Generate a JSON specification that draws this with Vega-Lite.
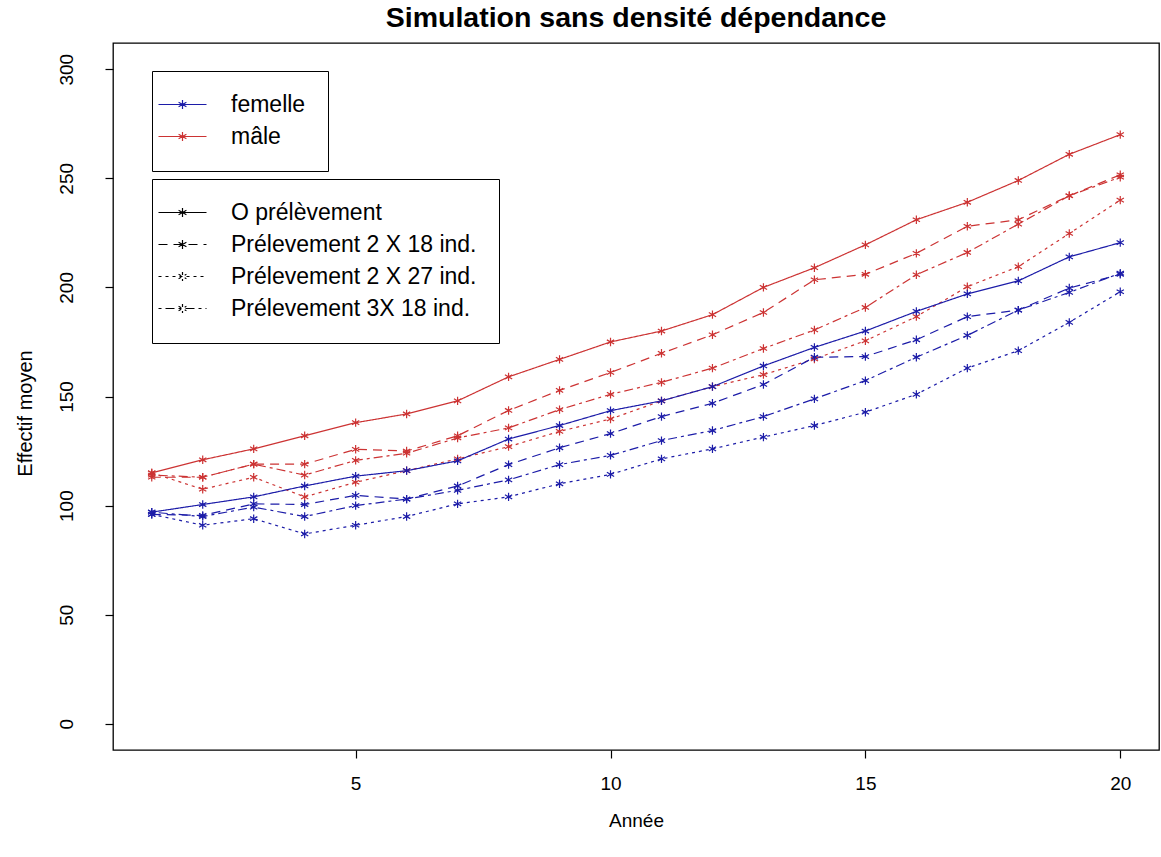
{
  "$schema": "https://vega.github.io/schema/vega-lite/v6.json",
  "width": 1046,
  "height": 707,
  "autosize": "none",
  "padding": {"left": 113, "top": 43, "right": 2, "bottom": 107},
  "background": "white",
  "config": {
    "font": "Liberation Sans",
    "view": {"stroke": "black", "strokeWidth": 1.3}
  },
  "title": {
    "text": "Simulation sans densité dépendance",
    "fontSize": 28.5,
    "fontWeight": "bold",
    "font": "Liberation Sans",
    "color": "black",
    "anchor": "middle",
    "offset": 11
  },
  "data": {
    "values": [
      {"annee": 1, "sexe": "mâle", "scenario": "O prélèvement", "effectif": 115},
      {"annee": 2, "sexe": "mâle", "scenario": "O prélèvement", "effectif": 121},
      {"annee": 3, "sexe": "mâle", "scenario": "O prélèvement", "effectif": 126},
      {"annee": 4, "sexe": "mâle", "scenario": "O prélèvement", "effectif": 132},
      {"annee": 5, "sexe": "mâle", "scenario": "O prélèvement", "effectif": 138},
      {"annee": 6, "sexe": "mâle", "scenario": "O prélèvement", "effectif": 142},
      {"annee": 7, "sexe": "mâle", "scenario": "O prélèvement", "effectif": 148},
      {"annee": 8, "sexe": "mâle", "scenario": "O prélèvement", "effectif": 159},
      {"annee": 9, "sexe": "mâle", "scenario": "O prélèvement", "effectif": 167},
      {"annee": 10, "sexe": "mâle", "scenario": "O prélèvement", "effectif": 175},
      {"annee": 11, "sexe": "mâle", "scenario": "O prélèvement", "effectif": 180},
      {"annee": 12, "sexe": "mâle", "scenario": "O prélèvement", "effectif": 187.5},
      {"annee": 13, "sexe": "mâle", "scenario": "O prélèvement", "effectif": 200},
      {"annee": 14, "sexe": "mâle", "scenario": "O prélèvement", "effectif": 209},
      {"annee": 15, "sexe": "mâle", "scenario": "O prélèvement", "effectif": 219.5},
      {"annee": 16, "sexe": "mâle", "scenario": "O prélèvement", "effectif": 231},
      {"annee": 17, "sexe": "mâle", "scenario": "O prélèvement", "effectif": 239},
      {"annee": 18, "sexe": "mâle", "scenario": "O prélèvement", "effectif": 249},
      {"annee": 19, "sexe": "mâle", "scenario": "O prélèvement", "effectif": 261},
      {"annee": 20, "sexe": "mâle", "scenario": "O prélèvement", "effectif": 270},

      {"annee": 1, "sexe": "mâle", "scenario": "Prélevement 2 X 18 ind.", "effectif": 113},
      {"annee": 2, "sexe": "mâle", "scenario": "Prélevement 2 X 18 ind.", "effectif": 113},
      {"annee": 3, "sexe": "mâle", "scenario": "Prélevement 2 X 18 ind.", "effectif": 119},
      {"annee": 4, "sexe": "mâle", "scenario": "Prélevement 2 X 18 ind.", "effectif": 119},
      {"annee": 5, "sexe": "mâle", "scenario": "Prélevement 2 X 18 ind.", "effectif": 125.8},
      {"annee": 6, "sexe": "mâle", "scenario": "Prélevement 2 X 18 ind.", "effectif": 125},
      {"annee": 7, "sexe": "mâle", "scenario": "Prélevement 2 X 18 ind.", "effectif": 132},
      {"annee": 8, "sexe": "mâle", "scenario": "Prélevement 2 X 18 ind.", "effectif": 143.6},
      {"annee": 9, "sexe": "mâle", "scenario": "Prélevement 2 X 18 ind.", "effectif": 152.8},
      {"annee": 10, "sexe": "mâle", "scenario": "Prélevement 2 X 18 ind.", "effectif": 161},
      {"annee": 11, "sexe": "mâle", "scenario": "Prélevement 2 X 18 ind.", "effectif": 169.8},
      {"annee": 12, "sexe": "mâle", "scenario": "Prélevement 2 X 18 ind.", "effectif": 178.3},
      {"annee": 13, "sexe": "mâle", "scenario": "Prélevement 2 X 18 ind.", "effectif": 188.5},
      {"annee": 14, "sexe": "mâle", "scenario": "Prélevement 2 X 18 ind.", "effectif": 203.5},
      {"annee": 15, "sexe": "mâle", "scenario": "Prélevement 2 X 18 ind.", "effectif": 206},
      {"annee": 16, "sexe": "mâle", "scenario": "Prélevement 2 X 18 ind.", "effectif": 215.6},
      {"annee": 17, "sexe": "mâle", "scenario": "Prélevement 2 X 18 ind.", "effectif": 228},
      {"annee": 18, "sexe": "mâle", "scenario": "Prélevement 2 X 18 ind.", "effectif": 231},
      {"annee": 19, "sexe": "mâle", "scenario": "Prélevement 2 X 18 ind.", "effectif": 242},
      {"annee": 20, "sexe": "mâle", "scenario": "Prélevement 2 X 18 ind.", "effectif": 251.6},

      {"annee": 1, "sexe": "mâle", "scenario": "Prélevement 2 X 27 ind.", "effectif": 115},
      {"annee": 2, "sexe": "mâle", "scenario": "Prélevement 2 X 27 ind.", "effectif": 107.5},
      {"annee": 3, "sexe": "mâle", "scenario": "Prélevement 2 X 27 ind.", "effectif": 113},
      {"annee": 4, "sexe": "mâle", "scenario": "Prélevement 2 X 27 ind.", "effectif": 104},
      {"annee": 5, "sexe": "mâle", "scenario": "Prélevement 2 X 27 ind.", "effectif": 110.7},
      {"annee": 6, "sexe": "mâle", "scenario": "Prélevement 2 X 27 ind.", "effectif": 116},
      {"annee": 7, "sexe": "mâle", "scenario": "Prélevement 2 X 27 ind.", "effectif": 121.4},
      {"annee": 8, "sexe": "mâle", "scenario": "Prélevement 2 X 27 ind.", "effectif": 127},
      {"annee": 9, "sexe": "mâle", "scenario": "Prélevement 2 X 27 ind.", "effectif": 134},
      {"annee": 10, "sexe": "mâle", "scenario": "Prélevement 2 X 27 ind.", "effectif": 139.7},
      {"annee": 11, "sexe": "mâle", "scenario": "Prélevement 2 X 27 ind.", "effectif": 148},
      {"annee": 12, "sexe": "mâle", "scenario": "Prélevement 2 X 27 ind.", "effectif": 154.5},
      {"annee": 13, "sexe": "mâle", "scenario": "Prélevement 2 X 27 ind.", "effectif": 160},
      {"annee": 14, "sexe": "mâle", "scenario": "Prélevement 2 X 27 ind.", "effectif": 167.2},
      {"annee": 15, "sexe": "mâle", "scenario": "Prélevement 2 X 27 ind.", "effectif": 175.5},
      {"annee": 16, "sexe": "mâle", "scenario": "Prélevement 2 X 27 ind.", "effectif": 186.6},
      {"annee": 17, "sexe": "mâle", "scenario": "Prélevement 2 X 27 ind.", "effectif": 200.3},
      {"annee": 18, "sexe": "mâle", "scenario": "Prélevement 2 X 27 ind.", "effectif": 209.5},
      {"annee": 19, "sexe": "mâle", "scenario": "Prélevement 2 X 27 ind.", "effectif": 224.7},
      {"annee": 20, "sexe": "mâle", "scenario": "Prélevement 2 X 27 ind.", "effectif": 240},

      {"annee": 1, "sexe": "mâle", "scenario": "Prélevement 3X 18 ind.", "effectif": 114},
      {"annee": 2, "sexe": "mâle", "scenario": "Prélevement 3X 18 ind.", "effectif": 113},
      {"annee": 3, "sexe": "mâle", "scenario": "Prélevement 3X 18 ind.", "effectif": 119},
      {"annee": 4, "sexe": "mâle", "scenario": "Prélevement 3X 18 ind.", "effectif": 114},
      {"annee": 5, "sexe": "mâle", "scenario": "Prélevement 3X 18 ind.", "effectif": 120.7},
      {"annee": 6, "sexe": "mâle", "scenario": "Prélevement 3X 18 ind.", "effectif": 124},
      {"annee": 7, "sexe": "mâle", "scenario": "Prélevement 3X 18 ind.", "effectif": 131},
      {"annee": 8, "sexe": "mâle", "scenario": "Prélevement 3X 18 ind.", "effectif": 135.6},
      {"annee": 9, "sexe": "mâle", "scenario": "Prélevement 3X 18 ind.", "effectif": 144},
      {"annee": 10, "sexe": "mâle", "scenario": "Prélevement 3X 18 ind.", "effectif": 151},
      {"annee": 11, "sexe": "mâle", "scenario": "Prélevement 3X 18 ind.", "effectif": 156.5},
      {"annee": 12, "sexe": "mâle", "scenario": "Prélevement 3X 18 ind.", "effectif": 163},
      {"annee": 13, "sexe": "mâle", "scenario": "Prélevement 3X 18 ind.", "effectif": 172},
      {"annee": 14, "sexe": "mâle", "scenario": "Prélevement 3X 18 ind.", "effectif": 180.5},
      {"annee": 15, "sexe": "mâle", "scenario": "Prélevement 3X 18 ind.", "effectif": 190.8},
      {"annee": 16, "sexe": "mâle", "scenario": "Prélevement 3X 18 ind.", "effectif": 205.8},
      {"annee": 17, "sexe": "mâle", "scenario": "Prélevement 3X 18 ind.", "effectif": 216},
      {"annee": 18, "sexe": "mâle", "scenario": "Prélevement 3X 18 ind.", "effectif": 229},
      {"annee": 19, "sexe": "mâle", "scenario": "Prélevement 3X 18 ind.", "effectif": 242},
      {"annee": 20, "sexe": "mâle", "scenario": "Prélevement 3X 18 ind.", "effectif": 250.5},

      {"annee": 1, "sexe": "femelle", "scenario": "O prélèvement", "effectif": 97},
      {"annee": 2, "sexe": "femelle", "scenario": "O prélèvement", "effectif": 100.5},
      {"annee": 3, "sexe": "femelle", "scenario": "O prélèvement", "effectif": 104},
      {"annee": 4, "sexe": "femelle", "scenario": "O prélèvement", "effectif": 109},
      {"annee": 5, "sexe": "femelle", "scenario": "O prélèvement", "effectif": 113.5},
      {"annee": 6, "sexe": "femelle", "scenario": "O prélèvement", "effectif": 116},
      {"annee": 7, "sexe": "femelle", "scenario": "O prélèvement", "effectif": 120.5},
      {"annee": 8, "sexe": "femelle", "scenario": "O prélèvement", "effectif": 130.5},
      {"annee": 9, "sexe": "femelle", "scenario": "O prélèvement", "effectif": 136.7},
      {"annee": 10, "sexe": "femelle", "scenario": "O prélèvement", "effectif": 143.5},
      {"annee": 11, "sexe": "femelle", "scenario": "O prélèvement", "effectif": 148},
      {"annee": 12, "sexe": "femelle", "scenario": "O prélèvement", "effectif": 154.5},
      {"annee": 13, "sexe": "femelle", "scenario": "O prélèvement", "effectif": 164},
      {"annee": 14, "sexe": "femelle", "scenario": "O prélèvement", "effectif": 172.5},
      {"annee": 15, "sexe": "femelle", "scenario": "O prélèvement", "effectif": 180},
      {"annee": 16, "sexe": "femelle", "scenario": "O prélèvement", "effectif": 189},
      {"annee": 17, "sexe": "femelle", "scenario": "O prélèvement", "effectif": 197},
      {"annee": 18, "sexe": "femelle", "scenario": "O prélèvement", "effectif": 203},
      {"annee": 19, "sexe": "femelle", "scenario": "O prélèvement", "effectif": 214},
      {"annee": 20, "sexe": "femelle", "scenario": "O prélèvement", "effectif": 220.5},

      {"annee": 1, "sexe": "femelle", "scenario": "Prélevement 2 X 18 ind.", "effectif": 96},
      {"annee": 2, "sexe": "femelle", "scenario": "Prélevement 2 X 18 ind.", "effectif": 95.5},
      {"annee": 3, "sexe": "femelle", "scenario": "Prélevement 2 X 18 ind.", "effectif": 100.8},
      {"annee": 4, "sexe": "femelle", "scenario": "Prélevement 2 X 18 ind.", "effectif": 100.5},
      {"annee": 5, "sexe": "femelle", "scenario": "Prélevement 2 X 18 ind.", "effectif": 104.7},
      {"annee": 6, "sexe": "femelle", "scenario": "Prélevement 2 X 18 ind.", "effectif": 103},
      {"annee": 7, "sexe": "femelle", "scenario": "Prélevement 2 X 18 ind.", "effectif": 109},
      {"annee": 8, "sexe": "femelle", "scenario": "Prélevement 2 X 18 ind.", "effectif": 118.8},
      {"annee": 9, "sexe": "femelle", "scenario": "Prélevement 2 X 18 ind.", "effectif": 126.5},
      {"annee": 10, "sexe": "femelle", "scenario": "Prélevement 2 X 18 ind.", "effectif": 133},
      {"annee": 11, "sexe": "femelle", "scenario": "Prélevement 2 X 18 ind.", "effectif": 140.8},
      {"annee": 12, "sexe": "femelle", "scenario": "Prélevement 2 X 18 ind.", "effectif": 146.9},
      {"annee": 13, "sexe": "femelle", "scenario": "Prélevement 2 X 18 ind.", "effectif": 155.5},
      {"annee": 14, "sexe": "femelle", "scenario": "Prélevement 2 X 18 ind.", "effectif": 168},
      {"annee": 15, "sexe": "femelle", "scenario": "Prélevement 2 X 18 ind.", "effectif": 168.3},
      {"annee": 16, "sexe": "femelle", "scenario": "Prélevement 2 X 18 ind.", "effectif": 176},
      {"annee": 17, "sexe": "femelle", "scenario": "Prélevement 2 X 18 ind.", "effectif": 186.6},
      {"annee": 18, "sexe": "femelle", "scenario": "Prélevement 2 X 18 ind.", "effectif": 189.6},
      {"annee": 19, "sexe": "femelle", "scenario": "Prélevement 2 X 18 ind.", "effectif": 199.7},
      {"annee": 20, "sexe": "femelle", "scenario": "Prélevement 2 X 18 ind.", "effectif": 206},

      {"annee": 1, "sexe": "femelle", "scenario": "Prélevement 2 X 27 ind.", "effectif": 96},
      {"annee": 2, "sexe": "femelle", "scenario": "Prélevement 2 X 27 ind.", "effectif": 91},
      {"annee": 3, "sexe": "femelle", "scenario": "Prélevement 2 X 27 ind.", "effectif": 94},
      {"annee": 4, "sexe": "femelle", "scenario": "Prélevement 2 X 27 ind.", "effectif": 87},
      {"annee": 5, "sexe": "femelle", "scenario": "Prélevement 2 X 27 ind.", "effectif": 91},
      {"annee": 6, "sexe": "femelle", "scenario": "Prélevement 2 X 27 ind.", "effectif": 95},
      {"annee": 7, "sexe": "femelle", "scenario": "Prélevement 2 X 27 ind.", "effectif": 100.8},
      {"annee": 8, "sexe": "femelle", "scenario": "Prélevement 2 X 27 ind.", "effectif": 104},
      {"annee": 9, "sexe": "femelle", "scenario": "Prélevement 2 X 27 ind.", "effectif": 110},
      {"annee": 10, "sexe": "femelle", "scenario": "Prélevement 2 X 27 ind.", "effectif": 114.3},
      {"annee": 11, "sexe": "femelle", "scenario": "Prélevement 2 X 27 ind.", "effectif": 121.4},
      {"annee": 12, "sexe": "femelle", "scenario": "Prélevement 2 X 27 ind.", "effectif": 126},
      {"annee": 13, "sexe": "femelle", "scenario": "Prélevement 2 X 27 ind.", "effectif": 131.4},
      {"annee": 14, "sexe": "femelle", "scenario": "Prélevement 2 X 27 ind.", "effectif": 136.7},
      {"annee": 15, "sexe": "femelle", "scenario": "Prélevement 2 X 27 ind.", "effectif": 142.8},
      {"annee": 16, "sexe": "femelle", "scenario": "Prélevement 2 X 27 ind.", "effectif": 151},
      {"annee": 17, "sexe": "femelle", "scenario": "Prélevement 2 X 27 ind.", "effectif": 163},
      {"annee": 18, "sexe": "femelle", "scenario": "Prélevement 2 X 27 ind.", "effectif": 171},
      {"annee": 19, "sexe": "femelle", "scenario": "Prélevement 2 X 27 ind.", "effectif": 184},
      {"annee": 20, "sexe": "femelle", "scenario": "Prélevement 2 X 27 ind.", "effectif": 198},

      {"annee": 1, "sexe": "femelle", "scenario": "Prélevement 3X 18 ind.", "effectif": 97},
      {"annee": 2, "sexe": "femelle", "scenario": "Prélevement 3X 18 ind.", "effectif": 95},
      {"annee": 3, "sexe": "femelle", "scenario": "Prélevement 3X 18 ind.", "effectif": 99.3},
      {"annee": 4, "sexe": "femelle", "scenario": "Prélevement 3X 18 ind.", "effectif": 95},
      {"annee": 5, "sexe": "femelle", "scenario": "Prélevement 3X 18 ind.", "effectif": 100},
      {"annee": 6, "sexe": "femelle", "scenario": "Prélevement 3X 18 ind.", "effectif": 103},
      {"annee": 7, "sexe": "femelle", "scenario": "Prélevement 3X 18 ind.", "effectif": 107},
      {"annee": 8, "sexe": "femelle", "scenario": "Prélevement 3X 18 ind.", "effectif": 111.8},
      {"annee": 9, "sexe": "femelle", "scenario": "Prélevement 3X 18 ind.", "effectif": 118.8},
      {"annee": 10, "sexe": "femelle", "scenario": "Prélevement 3X 18 ind.", "effectif": 123},
      {"annee": 11, "sexe": "femelle", "scenario": "Prélevement 3X 18 ind.", "effectif": 129.8},
      {"annee": 12, "sexe": "femelle", "scenario": "Prélevement 3X 18 ind.", "effectif": 134.4},
      {"annee": 13, "sexe": "femelle", "scenario": "Prélevement 3X 18 ind.", "effectif": 140.8},
      {"annee": 14, "sexe": "femelle", "scenario": "Prélevement 3X 18 ind.", "effectif": 148.9},
      {"annee": 15, "sexe": "femelle", "scenario": "Prélevement 3X 18 ind.", "effectif": 157.3},
      {"annee": 16, "sexe": "femelle", "scenario": "Prélevement 3X 18 ind.", "effectif": 168},
      {"annee": 17, "sexe": "femelle", "scenario": "Prélevement 3X 18 ind.", "effectif": 178},
      {"annee": 18, "sexe": "femelle", "scenario": "Prélevement 3X 18 ind.", "effectif": 189.6},
      {"annee": 19, "sexe": "femelle", "scenario": "Prélevement 3X 18 ind.", "effectif": 197.7},
      {"annee": 20, "sexe": "femelle", "scenario": "Prélevement 3X 18 ind.", "effectif": 206.5}
    ]
  },
  "encoding": {
    "x": {
      "field": "annee",
      "type": "quantitative",
      "scale": {"domain": [0.24, 20.76], "nice": false, "zero": false},
      "axis": {
        "values": [5, 10, 15, 20],
        "domain": false,
        "grid": false,
        "tickSize": 8,
        "tickColor": "black",
        "tickWidth": 1.2,
        "labelFont": "Liberation Sans",
        "labelFontSize": 19,
        "labelColor": "black",
        "labelPadding": 16,
        "title": "Année",
        "titleFont": "Liberation Sans",
        "titleFontSize": 19,
        "titleFontWeight": "normal",
        "titleColor": "black",
        "titlePadding": 18
      }
    },
    "y": {
      "field": "effectif",
      "type": "quantitative",
      "scale": {"domain": [-12, 312], "nice": false, "zero": false},
      "axis": {
        "values": [0, 50, 100, 150, 200, 250, 300],
        "domain": false,
        "grid": false,
        "tickSize": 8,
        "tickColor": "black",
        "tickWidth": 1.2,
        "labelAngle": -90,
        "labelAlign": "center",
        "labelBaseline": "middle",
        "labelFont": "Liberation Sans",
        "labelFontSize": 19,
        "labelColor": "black",
        "labelPadding": 39,
        "title": "Effectif moyen",
        "titleFont": "Liberation Sans",
        "titleFontSize": 20,
        "titleFontWeight": "normal",
        "titleColor": "black",
        "titleAngle": -90,
        "titleAlign": "center",
        "titleBaseline": "middle",
        "titleX": -88,
        "titleY": 370
      }
    },
    "color": {
      "field": "sexe",
      "type": "nominal",
      "scale": {"domain": ["femelle", "mâle"], "range": ["#1c1ca8", "#cc3333"]},
      "legend": {
        "title": null,
        "orient": "none",
        "legendX": 39,
        "legendY": 28,
        "direction": "vertical",
        "strokeColor": "black",
        "fillColor": "white",
        "padding": 22,
        "symbolType": "M-2.4,0H2.4M0,-0.45V0.45M-0.39,-0.22L0.39,0.22M-0.39,0.22L0.39,-0.22",
        "symbolSize": 400,
        "symbolStrokeWidth": 1.2,
        "symbolFillColor": "transparent",
        "symbolOffset": -3,
        "labelOffset": 37,
        "labelFont": "Liberation Sans",
        "labelFontSize": 23,
        "labelColor": "black",
        "labelLimit": 600,
        "rowPadding": 8
      }
    }
  },
  "layer": [
    {
      "mark": {"type": "line", "strokeWidth": 1.2},
      "encoding": {
        "strokeDash": {
          "field": "scenario",
          "type": "nominal",
          "scale": {
            "domain": ["O prélèvement", "Prélevement 2 X 18 ind.", "Prélevement 2 X 27 ind.", "Prélevement 3X 18 ind."],
            "range": [[1, 0], [9, 6], [3, 4], [3, 4, 9, 4]]
          },
          "legend": {
            "title": null,
            "orient": "none",
            "legendX": 39,
            "legendY": 136,
            "direction": "vertical",
            "strokeColor": "black",
            "fillColor": "white",
            "padding": 22,
            "symbolType": "M-2.4,0H2.4M0,-0.45V0.45M-0.39,-0.22L0.39,0.22M-0.39,0.22L0.39,-0.22",
            "symbolSize": 400,
            "symbolStrokeWidth": 1.2,
            "symbolStrokeColor": "black",
            "symbolFillColor": "transparent",
            "symbolOffset": -3,
            "labelOffset": 37,
            "labelFont": "Liberation Sans",
            "labelFontSize": 23,
            "labelColor": "black",
            "labelLimit": 600,
            "rowPadding": 8
          }
        }
      }
    },
    {
      "mark": {
        "type": "point",
        "shape": "M0,-1V1M-0.87,-0.5L0.87,0.5M-0.87,0.5L0.87,-0.5",
        "filled": false,
        "size": 70,
        "strokeWidth": 1.2,
        "opacity": 1
      },
      "encoding": {"detail": {"field": "scenario"}}
    }
  ]
}
